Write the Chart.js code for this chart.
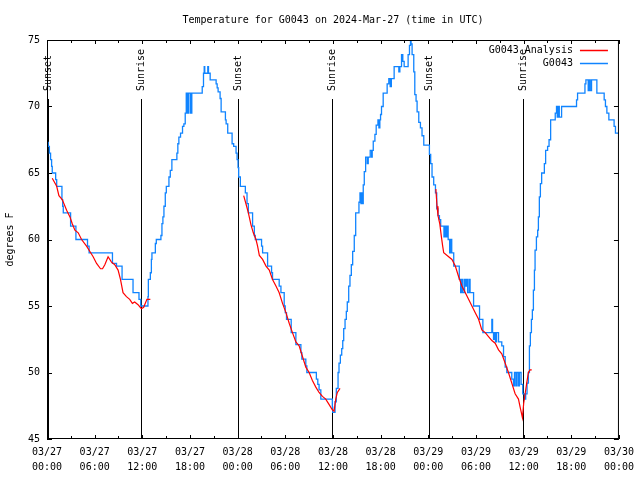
<!DOCTYPE html>
<html>
<head>
<meta charset="utf-8">
<script src="https://cdn.jsdelivr.net/npm/chart.js@4.4.1/dist/chart.umd.min.js"></script>
<style>
  html, body { margin: 0; padding: 0; background: #fff; }
</style>
</head>
<body>
<canvas id="tempChart" width="640" height="480"></canvas>
<script>
// all times are hours since 03/27 00:00 UTC
const titleText = 'Temperature for G0043 on 2024-Mar-27 (time in UTC)';

// G0043 observations (blue, stepped)
const obsHours = [
  0.00, 0.15, 0.30, 0.45, 0.58, 0.66, 1.09, 1.22, 1.88, 1.97, 2.05, 2.97, 3.64, 5.10, 5.30,
  8.24, 8.75, 9.45, 10.83, 11.58, 11.80, 12.71, 12.76, 13.01, 13.14, 13.21, 13.64, 13.76,
  14.34, 14.47, 14.59, 14.72, 14.89, 15.02, 15.35, 15.52, 15.72, 16.35, 16.47, 16.60, 16.81,
  17.06, 17.23, 17.40, 17.53, 17.69, 17.85, 18.07, 18.23, 19.54, 19.70, 19.79, 19.86, 20.24,
  20.33, 20.54, 21.29, 21.42, 21.54, 21.79, 21.92, 22.46, 22.55, 22.75, 23.30, 23.50, 23.80,
  23.93, 24.05, 24.13, 24.34, 24.97, 25.18, 25.35, 25.88, 26.10, 26.22, 27.01, 27.14, 27.77,
  28.27, 28.39, 29.23, 29.45, 29.86, 29.99, 30.15, 30.74, 31.33, 31.96, 32.08, 32.58, 32.71,
  33.91, 34.09, 34.25, 34.47, 35.92, 35.97, 36.26, 36.42, 36.64, 36.76, 36.93, 37.10, 37.23,
  37.35, 37.52, 37.68, 37.80, 37.98, 38.14, 38.31, 38.48, 38.68, 38.86, 39.27, 39.40, 39.52,
  39.61, 39.69, 39.81, 39.94, 40.11, 40.31, 40.44, 40.69, 40.87, 40.94, 41.07, 41.28, 41.44,
  41.66, 41.78, 41.90, 41.99, 42.11, 42.32, 42.82, 43.03, 43.20, 43.35, 43.70, 44.29, 44.42,
  44.63, 44.79, 44.96, 45.46, 45.63, 45.76, 45.83, 45.96, 46.17, 46.30, 46.46, 46.59, 46.80,
  47.01, 47.21, 47.43, 48.14, 48.30, 48.47, 48.68, 48.90, 49.06, 49.22, 49.40, 49.56, 49.97,
  50.10, 50.23, 50.36, 50.50, 50.69, 50.82, 50.95, 51.20, 51.90, 52.07, 52.23, 52.36, 52.57,
  52.70, 52.82, 52.95, 53.14, 53.26, 53.70, 54.45, 54.87, 56.00, 56.09, 56.21, 56.34, 56.46,
  56.59, 56.84, 57.25, 57.47, 57.68, 57.88, 58.51, 58.72, 58.85, 59.03, 59.16, 59.35, 59.47,
  59.68, 59.89, 60.10, 60.26, 60.43, 60.60, 60.73, 60.85, 60.98, 61.10, 61.23, 61.36, 61.44,
  61.61, 61.77, 61.86, 61.98, 62.11, 62.27, 62.61, 62.77, 63.02, 63.20, 63.40, 63.98, 64.14,
  64.23, 64.34, 64.49, 64.78, 66.66, 66.79, 67.72, 67.84, 68.13, 68.26, 68.38, 68.55, 69.22,
  70.14, 70.30, 70.48, 70.73, 71.39, 71.56, 72.00
];
const obsTemps = [
  67.3, 67.0, 66.5, 66.0, 65.5, 65.0, 64.5, 64.0, 63.0, 62.5, 62.0, 61.0, 60.0, 59.5, 59.0,
  58.2, 58.0, 57.0, 56.0, 55.5, 55.0, 55.7, 57.0, 57.5, 58.5, 59.0, 59.7, 60.0,
  60.3, 61.2, 61.7, 62.5, 63.5, 64.0, 64.7, 65.2, 66.0, 66.5, 67.2, 67.7, 68.0,
  68.5, 68.7, 69.5, 71.0, 69.5, 71.0, 69.5, 71.0, 71.5, 72.5, 73.0, 72.5, 73.0,
  72.5, 72.0, 71.7, 71.4, 71.1, 70.6, 69.6, 69.0, 68.7, 68.0, 67.2, 67.0, 66.5,
  66.0, 65.4, 64.7, 64.0, 63.5, 62.7, 62.0, 61.0, 60.3, 60.0, 59.5, 59.0, 58.0,
  57.5, 57.0, 56.5, 56.0, 55.0, 54.5, 54.0, 53.0, 52.1, 51.5, 51.0, 50.5, 50.0,
  49.5, 49.1, 48.7, 48.0, 47.4, 47.0, 47.8, 48.8, 50.0, 50.7, 51.3, 51.8, 52.4,
  53.3, 54.0, 54.6, 55.3, 56.5, 57.3, 58.1, 59.1, 60.3, 62.0, 62.8, 63.5, 62.7,
  63.5, 62.7, 64.1, 65.1, 66.2, 65.7, 66.2, 66.7, 66.2, 66.7, 67.4, 67.9, 68.6,
  69.0, 68.4, 69.0, 69.4, 70.0, 71.0, 71.7, 72.1, 71.5, 72.1, 73.0, 72.6, 73.0,
  73.9, 73.4, 73.0, 73.9, 74.6, 75.0, 74.7, 73.9, 72.6, 70.9, 70.4, 69.6, 68.8,
  68.4, 67.8, 67.1, 66.4, 65.7, 64.7, 64.1, 63.5, 62.3, 61.8, 61.5, 61.0, 60.2,
  61.0, 60.2, 61.0, 60.0, 59.0, 60.0, 59.0, 58.0, 57.0, 56.0, 57.0, 56.0, 57.0,
  56.5, 57.0, 56.0, 57.0, 56.0, 55.0, 54.0, 53.0, 54.0, 53.0, 52.5, 53.0, 52.3,
  53.0, 52.3, 52.0, 51.2, 50.4, 50.0, 49.5, 49.0, 50.0, 49.0, 50.0, 49.0, 50.0,
  49.1, 48.4, 48.0, 48.4, 49.2, 50.0, 52.0, 53.0, 54.0, 54.7, 56.2, 57.7, 59.2,
  60.2, 60.7, 61.7, 63.2, 64.2, 65.0, 65.7, 66.7, 67.0, 67.5, 69.0, 69.5, 70.0,
  69.2, 70.0, 69.2, 70.0, 70.5, 71.0, 71.7, 72.0, 71.2, 72.0, 71.2, 72.0, 71.0,
  70.5, 70.0, 69.5, 69.0, 68.5, 68.0, 68.0
];

// G0043 Analysis (red), only overnight; null breaks the line
const analysisHours = [
  0.66, 1.22, 1.50, 1.92, 2.47, 2.89, 3.17, 3.51, 3.93, 4.35, 4.98, 5.40, 5.81, 6.24, 6.74,
  6.99, 7.28, 7.69, 8.12, 8.53, 8.95, 9.25, 9.57, 10.00, 10.41, 10.75, 11.04, 11.46, 11.88,
  12.17, 12.58, 13.01,
  18.00,
  24.76, 25.13, 25.35, 25.68, 25.97, 26.31, 26.51, 26.73, 27.14, 27.57, 27.98, 28.39, 28.82,
  29.23, 29.65, 30.08, 30.49, 30.90, 31.33, 31.74, 32.16, 32.58, 33.00, 33.41, 33.84, 34.25,
  34.67, 35.09, 35.50, 35.92, 36.14, 36.35, 36.55, 36.89,
  42.00,
  48.95, 49.10, 49.22, 49.44, 49.65, 49.81, 49.94, 50.56, 50.98, 51.40, 51.82, 52.23, 52.66,
  53.07, 53.49, 53.91, 54.33, 54.74, 55.17, 55.58, 56.00, 56.42, 56.84, 57.25, 57.68, 58.09,
  58.51, 58.93, 59.35, 59.56, 59.85, 60.01, 60.19, 60.39, 60.60, 60.81, 61.02
];
const analysisTemps = [
  64.6, 64.0, 63.3, 63.0, 62.2, 61.7, 61.2, 60.7, 60.5, 60.0, 59.5, 59.1, 58.7, 58.2, 57.8,
  57.8, 58.1, 58.7, 58.3, 58.1, 57.7, 57.0, 56.0, 55.7, 55.5, 55.2, 55.3, 55.1, 54.8,
  54.9, 55.5, 55.5,
  null,
  63.3, 62.5, 62.0, 61.1, 60.5, 60.0, 59.5, 58.8, 58.5, 58.0, 57.7, 57.0, 56.5,
  56.0, 55.2, 54.5, 53.7, 53.0, 52.3, 52.0, 51.2, 50.4, 50.0, 49.4, 48.9, 48.5,
  48.2, 48.0, 47.6, 47.2, 47.1, 48.0, 48.5, 48.8,
  null,
  63.8, 62.5, 61.8, 61.2, 60.2, 59.5, 59.0, 58.7, 58.5, 58.0, 57.2, 56.5, 56.0,
  55.5, 55.0, 54.5, 54.0, 53.2, 53.0, 52.7, 52.4, 52.2, 51.7, 51.4, 50.7, 50.0,
  49.2, 48.4, 48.0, 47.4, 46.6, 47.7, 48.4, 49.2, 50.0, 50.2, 50.2
];

const sunHours = [0.07, 11.85, 24.1, 35.92, 48.15, 59.95];
const sunLabels = ['Sunset', 'Sunrise', 'Sunset', 'Sunrise', 'Sunset', 'Sunrise'];

const xTickHours = [0, 6, 12, 18, 24, 30, 36, 42, 48, 54, 60, 66, 72];
const xTickLabels = [
  ['03/27', '00:00'], ['03/27', '06:00'], ['03/27', '12:00'], ['03/27', '18:00'],
  ['03/28', '00:00'], ['03/28', '06:00'], ['03/28', '12:00'], ['03/28', '18:00'],
  ['03/29', '00:00'], ['03/29', '06:00'], ['03/29', '12:00'], ['03/29', '18:00'],
  ['03/30', '00:00']
];
const xMinorHours = [3, 9, 15, 21, 27, 33, 39, 45, 51, 57, 63, 69];
const yTickValues = [45, 50, 55, 60, 65, 70, 75];

const BLUE = 'rgb(16,132,255)';
const RED = 'rgb(255,0,0)';
const FAMILY = '"DejaVu Sans Mono", "Liberation Mono", monospace';
const FONT = '10px ' + FAMILY;

// frame, inward ticks, sunrise/sunset markers and the legend
const overlay = {
  id: 'overlay',
  beforeDatasetsDraw(chart) {
    const { ctx, chartArea: a, scales: { x } } = chart;
    ctx.save();
    ctx.strokeStyle = '#000';
    ctx.fillStyle = '#000';
    ctx.lineWidth = 1;
    ctx.font = FONT;
    sunHours.forEach((h, i) => {
      const px = Math.round(x.getPixelForValue(h)) + 0.5;
      ctx.beginPath();
      ctx.moveTo(px, a.top + 59);
      ctx.lineTo(px, a.bottom);
      ctx.stroke();
      ctx.save();
      ctx.translate(px, a.top + 51);
      ctx.rotate(-Math.PI / 2);
      ctx.textAlign = 'left';
      ctx.textBaseline = 'middle';
      ctx.fillText(sunLabels[i], 0, 0);
      ctx.restore();
    });
    ctx.restore();
  },
  afterDatasetsDraw(chart) {
    const { ctx, chartArea: a, scales: { x, y } } = chart;
    ctx.save();
    ctx.strokeStyle = '#000';
    ctx.lineWidth = 1;
    ctx.strokeRect(a.left + 0.5, a.top + 0.5, a.width - 1, a.height - 1);

    ctx.beginPath();
    yTickValues.forEach(v => {
      const py = Math.round(y.getPixelForValue(v)) + 0.5;
      ctx.moveTo(a.left, py); ctx.lineTo(a.left + 5, py);
      ctx.moveTo(a.right, py); ctx.lineTo(a.right - 5, py);
    });
    xTickHours.concat(xMinorHours).forEach(h => {
      const px = Math.round(x.getPixelForValue(h)) + 0.5;
      const len = xMinorHours.includes(h) ? 3 : 4;
      ctx.moveTo(px, a.bottom); ctx.lineTo(px, a.bottom - len);
      ctx.moveTo(px, a.top); ctx.lineTo(px, a.top + len);
    });
    ctx.stroke();

    // legend, top right inside the plot
    ctx.font = FONT;
    ctx.fillStyle = '#000';
    ctx.textAlign = 'right';
    ctx.textBaseline = 'middle';
    chart.data.datasets.forEach((ds, i) => {
      const ly = a.top + 10 + i * 13;
      ctx.fillText(ds.label, a.right - 46, ly);
      ctx.strokeStyle = ds.borderColor;
      ctx.lineWidth = 1.5;
      ctx.beginPath();
      ctx.moveTo(a.right - 39, ly + 0.5);
      ctx.lineTo(a.right - 11, ly + 0.5);
      ctx.stroke();
    });
    ctx.restore();
  }
};

const ctx = document.getElementById('tempChart').getContext('2d');

new Chart(ctx, {
  type: 'line',
  data: {
    datasets: [
      {
        label: 'G0043 Analysis',
        data: analysisHours.map((h, i) => ({ x: h, y: analysisTemps[i] })),
        borderColor: RED,
        borderWidth: 1.2,
        pointRadius: 0,
        spanGaps: false,
        tension: 0,
        order: 0
      },
      {
        label: 'G0043',
        data: obsHours.map((h, i) => ({ x: h, y: obsTemps[i] })),
        borderColor: BLUE,
        borderWidth: 1.3,
        pointRadius: 0,
        stepped: true,
        order: 1
      }
    ]
  },
  options: {
    responsive: false,
    animation: false,
    events: [],
    layout: { padding: { left: 0, right: 19, top: 0, bottom: 0 } },
    plugins: {
      legend: { display: false },
      tooltip: { enabled: false },
      title: {
        display: true,
        fullSize: false,
        text: titleText,
        color: '#000',
        font: { family: FAMILY, size: 10, weight: 'normal' },
        padding: { top: 14, bottom: 14 }
      }
    },
    scales: {
      x: {
        type: 'linear',
        min: 0,
        max: 72,
        grid: { display: false, drawTicks: false },
        border: { display: false },
        afterBuildTicks: s => { s.ticks = xTickHours.map(v => ({ value: v })); },
        afterFit: s => { s.height = 41; },
        ticks: {
          autoSkip: false,
          maxRotation: 0,
          padding: 6,
          color: '#000',
          font: { family: FAMILY, size: 10, lineHeight: 1.5 },
          callback: (v) => xTickLabels[xTickHours.indexOf(v)]
        }
      },
      y: {
        min: 45,
        max: 75,
        grid: { display: false, drawTicks: false },
        border: { display: false },
        afterBuildTicks: s => { s.ticks = yTickValues.map(v => ({ value: v })); },
        afterFit: s => { s.width = 47; },
        ticks: {
          padding: 7,
          color: '#000',
          font: { family: FAMILY, size: 10 }
        },
        title: {
          display: true,
          text: 'degrees F',
          color: '#000',
          font: { family: FAMILY, size: 10 },
          padding: { top: 4, bottom: 0 }
        }
      }
    }
  },
  plugins: [overlay]
});
</script>
</body>
</html>
